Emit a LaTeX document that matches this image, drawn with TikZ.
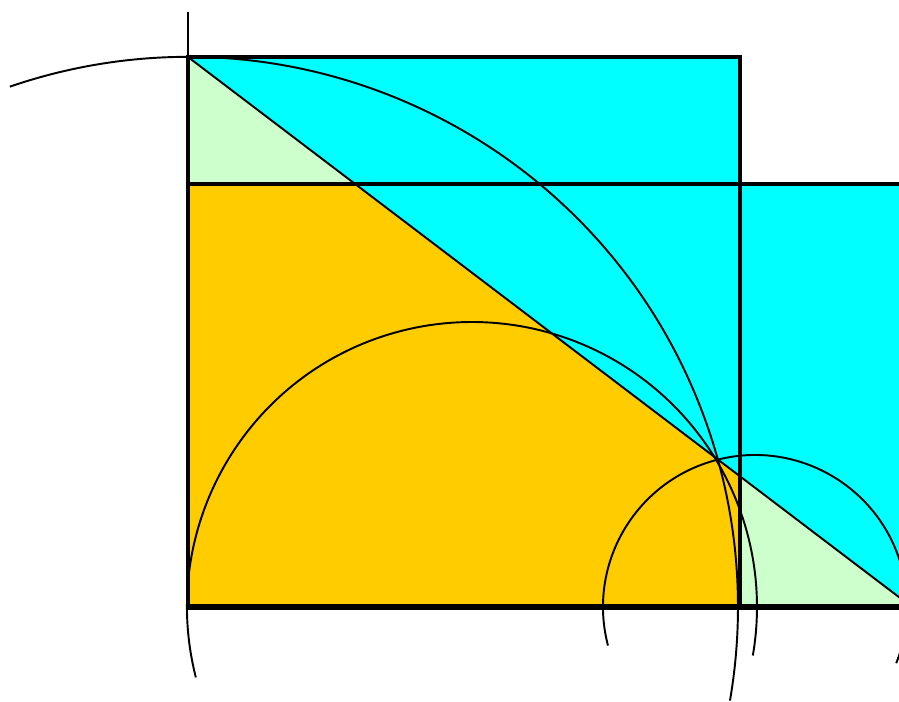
\documentclass[tikz,border=0pt]{standalone}
\usepackage{tikz}
\definecolor{aqua}{RGB}{0,255,255}
\definecolor{gold}{RGB}{255,204,0}
\definecolor{mint}{RGB}{204,255,204}
\begin{document}
\begin{tikzpicture}[x=0.02cm, y=0.02cm,
    frame/.style={line width=2pt, line join=miter},
    arcline/.style={line width=1.1pt}]
    \useasboundingbox (0,0) rectangle (899,702);
    \clip (0,0) rectangle (899,702);

    % corners
    \coordinate (A) at (188,645);
    \coordinate (B) at (740,645);
    \coordinate (C) at (740,95);
    \coordinate (D) at (188,95);
    \coordinate (E) at (188,518);
    \coordinate (M) at (355.2,518);
    \coordinate (N) at (740,225.7);
    \coordinate (R) at (912,95);
    \coordinate (Rt) at (912,518);
    \coordinate (H) at (472,95);
    \coordinate (S) at (755,95);
    \coordinate (T) at (188,690);

    % fills
    \fill[aqua] (A) -- (B) -- (740,518) -- (Rt) -- (R) -- cycle;
    \fill[mint] (A) -- (E) -- (M) -- cycle;
    \fill[gold] (E) -- (M) -- (N) -- (C) -- (D) -- cycle;
    \fill[mint] (N) -- (R) -- (C) -- cycle;

    % square and rectangle
    \draw[frame] (A) -- (B) -- (C) -- (D) -- cycle;
    \draw[frame] (E) -- (Rt) -- (R) -- (D) -- cycle;
    \draw[line width=3.6pt] (D) -- (R);
    \draw[arcline] (A) -- (R);
    \draw[arcline] (A) -- (T);

    % arcs
    \draw[arcline] ([shift={(108.9:550)}]D) arc[start angle=108.9, end angle=-9.8, radius=550];
    \draw[arcline] ([shift={(194.3:285)}]H) arc[start angle=194.3, end angle=-9.8, radius=285];
    \draw[arcline] ([shift={(194.7:152)}]S) arc[start angle=194.7, end angle=-21.7, radius=152];
\end{tikzpicture}
\end{document}
